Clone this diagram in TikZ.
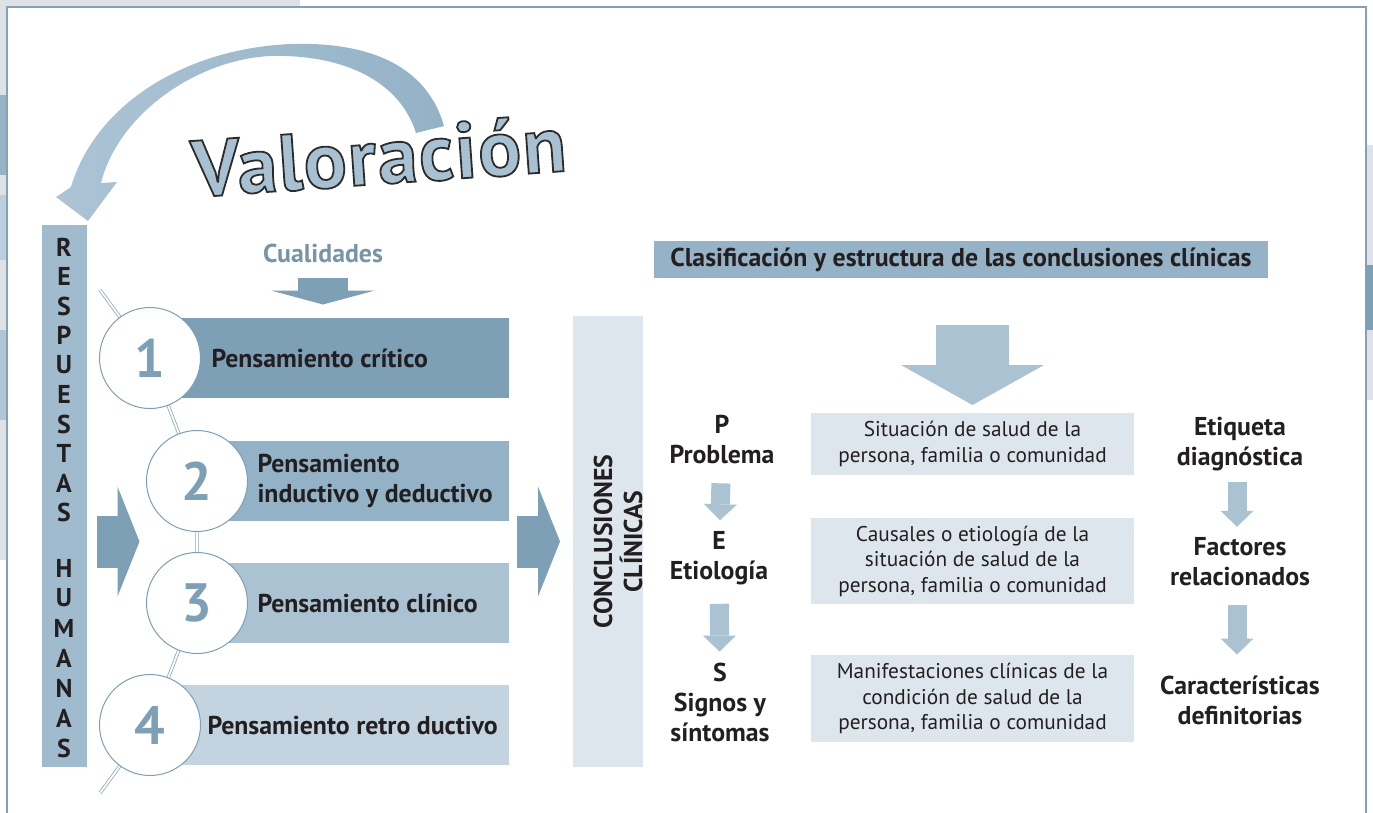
\documentclass[tikz,border=0pt]{standalone}
\usepackage{fontspec}
\setmainfont{PT Sans}
\usetikzlibrary{positioning,arrows.meta}
% outlined letters (fill + stroke) for the title
\newcommand{\outlinetext}[1]{\special{pdf:literal direct 2 Tr 1.8 w 0.17 0.17 0.17 RG}#1\special{pdf:literal direct 0 Tr}}

\begin{document}
\begin{tikzpicture}[x=1pt, y=-1pt,
		every node/.style={inner sep=0pt, outer sep=0pt, text=ink},
		boldtxt/.style={font=\fontsize{25.8}{30}\selectfont\bfseries},
		plaintxt/.style={font=\fontsize{21.3}{25.5}\selectfont},
		bartext/.style={boldtxt, align=left},
		barbox/.style={minimum height=80pt, anchor=west},
		numcircle/.style={circle, draw=barA, line width=1pt, fill=white, minimum size=101pt,
			text=barA, font=\fontsize{54}{54}\selectfont\bfseries},
		infobox/.style={fill=paleblue, minimum width=323pt, align=center, plaintxt},
		label/.style={boldtxt, align=center},
		spine/.style={draw=spinecol, double=white, line width=0.8pt, double distance=1.8pt},
		fatarrow/.style={draw=barA, line width=52pt, -{Triangle[width=110pt, length=22pt, line width=0pt]}},
		slimarrow/.style={draw=lightarrow, line width=19pt, -{Triangle[width=33pt, length=16pt, line width=0pt]}}
	]
	% Define colors
	\definecolor{ink}{RGB}{35,31,32}
	\definecolor{framecol}{RGB}{130,160,185}
	\definecolor{barA}{RGB}{125,160,182}
	\definecolor{barB}{RGB}{148,178,198}
	\definecolor{barC}{RGB}{170,194,210}
	\definecolor{barD}{RGB}{195,212,224}
	\definecolor{respcol}{RGB}{160,187,205}
	\definecolor{headcol}{RGB}{150,178,198}
	\definecolor{paleblue}{RGB}{222,230,237}
	\definecolor{lightarrow}{RGB}{170,194,210}
	\definecolor{spinecol}{RGB}{140,170,192}
	\definecolor{arcdark}{RGB}{148,178,198}
	\definecolor{arclight}{RGB}{172,196,213}
	\definecolor{valfill}{RGB}{168,193,210}
	\definecolor{edgegray}{RGB}{222,225,229}
	\useasboundingbox (0,0) rectangle (1373,812);
	% Page edge decoration and frame
	\fill[edgegray] (0,0) rectangle (300,6);
	\fill[edgegray] (0,0) rectangle (6,560);
	\fill[barA!80] (0,95) rectangle (6,175);
	\fill[respcol!70] (0,195) rectangle (6,260);
	\fill[barA!60] (0,330) rectangle (6,420);
	\fill[edgegray] (1367,145) rectangle (1373,400);
	\fill[barA] (1367,265) rectangle (1373,330);
	\draw[framecol, line width=2.5pt] (7,830) -- (7,7) -- (1366,7) -- (1366,830);
	% Curved arrow (Valoracion)
	\shade[left color=arclight, right color=arcdark]
		(444,126) .. controls (425,60) and (360,42) .. (292,44)
		.. controls (185,48) and (95,105) .. (71,187)
		-- (56,197) -- (88,221) -- (117,182) -- (101,183)
		.. controls (118,115) and (195,60) .. (270,56)
		.. controls (345,54) and (400,82) .. (416,133) -- cycle;
	\node[anchor=base west, rotate=4, text=valfill, font=\fontsize{80}{80}\selectfont\bfseries\addfontfeature{LetterSpace=2}] (valo) at (194,197) {\outlinetext{Valoración}};
	% Left column (Respuestas humanas)
	\node[fill=respcol, minimum width=45pt, minimum height=542pt] (resp) at (64.5,496) {};
	\foreach \l [count=\i] in {R,E,S,P,U,E,S,T,A,S}
		\node[boldtxt] at (64,{247+29.5*(\i-1)}) {\l};
	\foreach \l [count=\i] in {H,U,M,A,N,A,S}
		\node[boldtxt] at (64,{568+30*(\i-1)}) {\l};
	% Cualidades
	\node[boldtxt, text=barA!90!black!95] (cual) at (323,253) {Cualidades};
	\node (b1top) at (323,318) {};
	\draw[draw=barA, line width=50pt, -{Triangle[width=104pt, length=14pt, line width=0pt]}, shorten <=16pt, shorten >=13pt] (cual) -- (b1top);
	% Thinking steps
	\coordinate (c1) at (150,358);
	\coordinate (c2) at (197,481);
	\coordinate (c3) at (197,603);
	\coordinate (c4) at (150,725);
	\coordinate (sptop) at (100,290);
	\coordinate (spbot) at (100,793);
	\draw[spine] (sptop) -- (c1) -- (c2) -- (c3) -- (c4) -- (spbot);
	\node[barbox, fill=barA, minimum width=359pt] (b1) at (c1) {};
	\node[barbox, fill=barB, minimum width=312pt] (b2) at (c2) {};
	\node[barbox, fill=barC, minimum width=312pt] (b3) at (c3) {};
	\node[barbox, fill=barD, minimum width=359pt] (b4) at (c4) {};
	\node[numcircle] (n1) at (c1) {1};
	\node[numcircle] (n2) at (c2) {2};
	\node[numcircle] (n3) at (c3) {3};
	\node[numcircle] (n4) at (c4) {4};
	\node[bartext, right=11pt of n1] (t1) {Pensamiento crítico};
	\node[bartext, right=10pt of n2] (t2) {Pensamiento\\inductivo y deductivo};
	\node[bartext, right=10pt of n3] (t3) {Pensamiento clínico};
	\node[bartext, right=7pt of n4] (t4) {Pensamiento retro ductivo};
	% Conclusiones clinicas
	\node[fill=paleblue, minimum width=70pt, minimum height=451pt] (concl) at (608,541.5) {};
	\node[boldtxt, rotate=90, align=center, yshift=-10pt] (concltxt) at (concl.center) {CONCLUSIONES\\CLÍNICAS};
	\draw[fatarrow, shorten <=10pt, shorten >=7pt] (resp.east |- concl.west) -- (n3.west |- concl.west);
	\draw[fatarrow, shorten <=8pt, shorten >=13pt] (b2.east |- concl.west) -- (concl.west);
	% Classification (right part)
	\node[fill=headcol, minimum width=614pt, minimum height=37pt, boldtxt] (clasif) at (961,259.5) {Clasificación y estructura de las conclusiones clínicas};
	\node[label] (pP) at (722,440) {P\\Problema};
	\node[label] (pE) at (719,558) {E\\Etiología};
	\node[label] (pS) at (720,702) {S\\Signos y\\síntomas};
	\node[infobox, minimum height=62pt] (box1) at (972.5,444) {Situación de salud de la\\persona, familia o comunidad};
	\node[infobox, minimum height=86pt] (box2) at (972.5,561) {Causales o etiología de la\\situación de salud de la\\persona, familia o comunidad};
	\node[infobox, minimum height=87pt] (box3) at (972.5,698.5) {Manifestaciones clínicas de la\\condición de salud de la\\persona, familia o comunidad};
	\node[label] (eti) at (1240,444) {Etiqueta\\diagnóstica};
	\node[label] (fac) at (1240,562) {Factores\\relacionados};
	\node[label] (car) at (1240,700) {Características\\definitorias};
	\draw[draw=lightarrow, line width=73pt, -{Triangle[width=143pt, length=40pt, line width=0pt]}, shorten <=47pt, shorten >=8pt] (box1.north |- clasif.south) -- (box1.north);
	\draw[slimarrow, shorten <=19pt, shorten >=11pt] (pP) -- (pE);
	\draw[slimarrow, shorten <=19pt, shorten >=11pt] (pE) -- (pS);
	\draw[slimarrow, shorten <=11pt, shorten >=11pt] (eti.south -| 1237,0) -- (fac.north -| 1237,0);
	\draw[slimarrow, shorten <=19pt, shorten >=21pt] (fac.south -| 1237,0) -- (car.north -| 1237,0);
\end{tikzpicture}
\end{document}
